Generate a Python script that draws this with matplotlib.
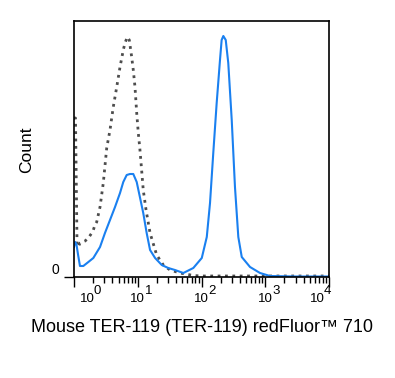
import matplotlib
matplotlib.use('Agg')
import matplotlib.pyplot as plt
import matplotlib.transforms as mtransforms
import numpy as np
from matplotlib.ticker import LogLocator, NullFormatter

plt.rcParams['font.family'] = ['Liberation Sans', 'DejaVu Sans']

# isotype control (dotted grey histogram)
ctrl_x = [1.0, 1.055, 1.115, 1.17, 1.24, 1.49, 1.68, 1.90, 2.01, 2.13, 2.27, 2.56,
          2.88, 3.26, 3.67, 4.13, 4.68, 5.27, 5.93, 6.31, 6.86, 7.37, 8.03, 8.51,
          9.05, 9.63, 10.2, 10.8, 11.5, 12.2, 13.5, 15.6, 19.8, 25.2, 32.1, 46.0,
          74.4, 100, 300, 1000, 3000, 10000]
ctrl_y = [159, 159, 34, 30, 34, 36, 39, 44, 47, 52, 55, 70,
          94, 129, 147, 170, 190, 210, 227, 234, 240, 237, 220, 207,
          190, 164, 144, 128, 107, 87, 67, 44, 22, 12, 7, 4,
          1.5, 1, 1, 1, 1, 1]

# stained sample (blue histogram)
stain_x = [1.0, 1.04, 1.09, 1.16, 1.24, 1.40, 1.68, 2.01, 2.56, 3.06, 3.67, 4.40,
           5.27, 5.93, 6.71, 7.55, 8.51, 9.63, 10.8, 12.2, 13.8, 15.6, 18.7, 23.8,
           30.1, 38.4, 51.9, 74.4, 101, 121, 136, 153, 173, 195, 207, 220,
           240, 263, 298, 335, 378, 428, 577, 828, 1188, 3000, 10000]
stain_y = [30, 35, 33, 22, 11, 11, 15, 19, 30, 44, 57, 70,
           84, 95, 102, 103, 103, 95, 80, 64, 44, 27, 19, 12,
           9, 7, 4, 9, 19, 40, 74, 124, 174, 217, 237, 241,
           237, 214, 157, 90, 40, 20, 10, 4, 1, 0.5, 0.5]

decades = [0, 1, 2, 3, 4]
label_shift = [13, 0, 0, 0, -12]  # px, keeps edge labels inside

fig = plt.figure(figsize=(3.95, 3.78), dpi=100)
ax = fig.add_axes([74 / 395, 1 - 277 / 378, 255 / 395, 256 / 378])

ax.plot(ctrl_x, ctrl_y, ls=':', color='#4d4d4d', lw=2)
ax.plot(stain_x, stain_y, color='#1a80f0', lw=1.5)

ax.set_xscale('log')
ax.set_xlim(1, 1e4)
ax.set_ylim(0, 256)

ax.xaxis.set_major_locator(LogLocator(base=10, numticks=10))
ax.xaxis.set_minor_locator(LogLocator(base=10, subs=np.arange(2, 10), numticks=10))
ax.xaxis.set_major_formatter(NullFormatter())
ax.xaxis.set_minor_formatter(NullFormatter())
ax.tick_params(axis='x', which='major', length=7, width=1, direction='out')
ax.tick_params(axis='x', which='minor', length=4, width=1, direction='out')

ax.set_yticks([0])
ax.set_yticklabels(['0'])
ax.tick_params(axis='y', length=7, width=1, labelsize=10)
for lab in ax.get_yticklabels():
    lab.set_va('bottom')

for sp in ax.spines.values():
    sp.set_linewidth(1.2)
    sp.set_color('black')

# x tick labels drawn as "10" + full size exponent
blend = mtransforms.blended_transform_factory(ax.transData, ax.transAxes)
for d, dx in zip(decades, label_shift):
    t1 = mtransforms.offset_copy(blend, fig=fig, x=dx, y=0, units='dots')
    ax.text(10 ** d, -16 / 256, '10', transform=t1, ha='center', va='top',
            fontsize=9.5, clip_on=False)
    t2 = mtransforms.offset_copy(blend, fig=fig, x=dx + 7, y=0, units='dots')
    ax.text(10 ** d, -8 / 256, str(d), transform=t2, ha='left', va='top',
            fontsize=9.5, clip_on=False)

fig.text(202 / 395, 1 - 327 / 378, 'Mouse TER-119 (TER-119) redFluor™ 710',
         ha='center', va='center', fontsize=13)
fig.text(27 / 395, 1 - 150 / 378, 'Count', rotation=90, ha='center', va='center',
         fontsize=12.5)

fig.savefig('out.png', dpi=100)
